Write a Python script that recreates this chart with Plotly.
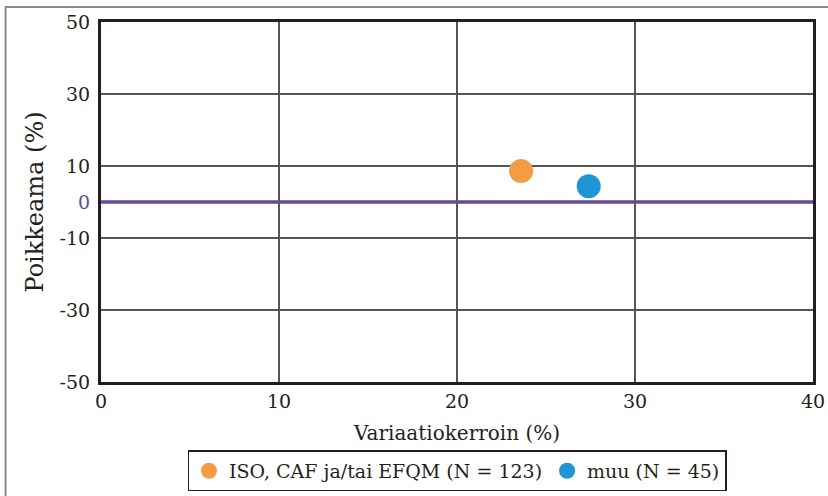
import plotly.graph_objects as go

series_names = ["ISO, CAF ja/tai EFQM (N = 123)", "muu (N = 45)"]
x_values = [23.6, 27.4]
y_values = [8.6, 4.4]
colors = ["#f39c45", "#1e96d5"]
y_ticks = [-50, -30, -10, 0, 10, 30, 50]
y_tick_labels = ["-50", "-30", "-10", "<span style='color:#6a4a92'>0</span>", "10", "30", "50"]
x_ticks = [0, 10, 20, 30, 40]

FONT = "DejaVu Serif"
fig = go.Figure()
for name, xv, yv, c in zip(series_names, x_values, y_values, colors):
    fig.add_trace(go.Scatter(x=[xv], y=[yv], mode="markers", name=name,
                             marker=dict(size=24, color=c)))

fig.update_layout(
    width=828, height=496,
    margin=dict(l=101, r=15, t=22, b=114, autoexpand=False),
    paper_bgcolor="white", plot_bgcolor="white",
    font=dict(family=FONT, size=19, color="#231f20"),
    showlegend=True,
    legend=dict(orientation="h", x=0.5, xanchor="center", y=-0.19, yanchor="top",
                bordercolor="#231f20", borderwidth=1.5, font=dict(size=19),
                itemsizing="trace", itemwidth=30, tracegroupgap=0),
    xaxis=dict(range=[0, 40], tickvals=x_ticks, showgrid=True, automargin=False,
               gridcolor="#555555", gridwidth=1.5, zeroline=False,
               showline=True, linecolor="#231f20", linewidth=3, mirror=True,
               ticks="", title=dict(text="Variaatiokerroin (%)", font=dict(size=20), standoff=16)),
    yaxis=dict(range=[-50, 50], tickvals=y_ticks, ticktext=y_tick_labels, showgrid=True,
               automargin=False,
               gridcolor="#555555", gridwidth=1.5, zeroline=False,
               showline=True, linecolor="#231f20", linewidth=3, mirror=True,
               ticks="", ticklabelstandoff=4,
               title=dict(text="Poikkeama (%)", font=dict(size=24), standoff=10)),
)

fig.add_shape(type="rect", xref="paper", yref="paper", x0=-0.134, x1=1.1, y0=-0.4, y1=1.042,
              line=dict(color="#8c8c8c", width=2), fillcolor="rgba(0,0,0,0)", layer="below")
fig.add_hline(y=0, line=dict(color="#6a4a92", width=3.5), layer="above")

fig.write_html("out.html", config={"displayModeBar": False},
               post_script="document.body.style.margin='0';")
